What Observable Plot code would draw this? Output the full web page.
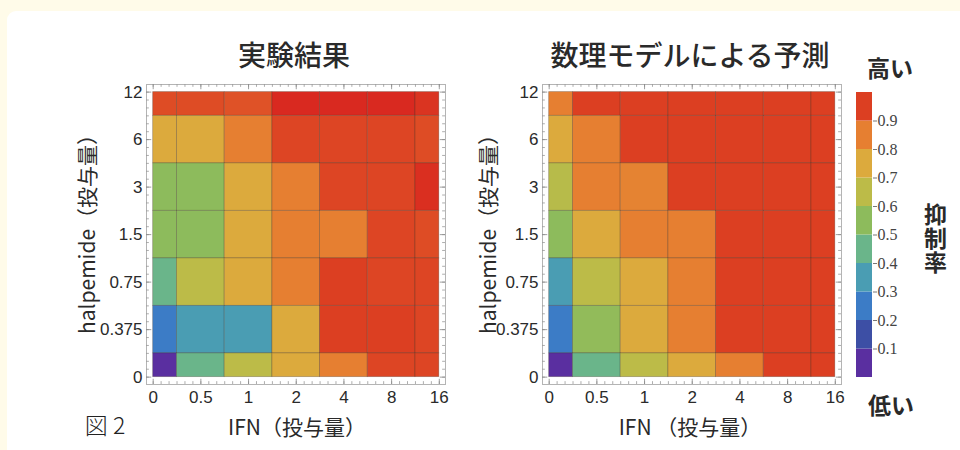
<!DOCTYPE html>
<html>
<head>
<meta charset="utf-8">
<script src="https://cdn.jsdelivr.net/npm/d3@7"></script>
<script src="https://cdn.jsdelivr.net/npm/@observablehq/plot@0.6"></script>
<style>
  html, body { margin: 0; padding: 0; }
  body { width: 960px; height: 450px; background: #fffbe9; position: relative; overflow: hidden;
         font-family: "Noto Sans CJK JP", "Liberation Sans", sans-serif; color: #222; }
  #panel { position: absolute; left: 7px; top: 11px; width: 980px; height: 460px; background: #ffffff; border-radius: 9px; }
  .abs { position: absolute; }
  .c { position: absolute; transform: translate(-50%, -50%); white-space: nowrap; }
  .title { font-size: 28px; font-weight: 500; color: #2a2a2a; }
  .axl { font-size: 21px; color: #2a2a2a; }
  .yl { font-size: 21px; color: #2a2a2a; transform: translate(-50%, -50%) rotate(-90deg); }
  .leg { font-size: 23px; font-weight: 700; color: #2a2a2a; }
  #vert { writing-mode: vertical-rl; font-size: 23px; font-weight: 700; line-height: 1; letter-spacing: 1px; color: #2a2a2a; }
</style>
</head>
<body>
<div id="panel"></div>
<div id="left" class="abs" style="left:40px;top:0px;"></div>
<div id="right" class="abs" style="left:460px;top:0px;"></div>
<div id="cbar" class="abs" style="left:840px;top:0px;"></div>

<div class="c title" style="left:294px;top:54px;">実験結果</div>
<div class="c title" style="left:690px;top:54px;">数理モデルによる予測</div>
<div class="c yl" style="left:86px;top:229px;">halpemide（投与量）</div>
<div class="c yl" style="left:487px;top:229px;">halpemide（投与量）</div>
<div class="c axl" style="left:297px;top:426px;">IFN（投与量）</div>
<div class="c axl" style="left:690px;top:426px;">IFN （投与量）</div>
<div class="c" style="left:105px;top:424px;font-size:23px;font-weight:300;">図 2</div>
<div class="c leg" style="left:890px;top:67px;">高い</div>
<div class="c leg" style="left:891px;top:404px;">低い</div>
<div id="vert" class="c" style="left:935px;top:239px;">抑制率</div>

<script>
// ---- data ----
const ifnLabels = ["0", "0.5", "1", "2", "4", "8", "16"];
const halLabels = ["0", "0.375", "0.75", "1.5", "3", "6", "12"];

// rows listed from top (halpemide 12) to bottom (halpemide 0); columns IFN 0 → 16
const experiment = [
  [0.93, 0.93, 0.92, 0.99, 0.99, 0.99, 0.97],
  [0.75, 0.75, 0.85, 0.94, 0.94, 0.94, 0.93],
  [0.55, 0.55, 0.75, 0.85, 0.94, 0.94, 0.98],
  [0.55, 0.55, 0.75, 0.85, 0.85, 0.94, 0.93],
  [0.45, 0.65, 0.75, 0.85, 0.95, 0.94, 0.94],
  [0.25, 0.35, 0.35, 0.75, 0.95, 0.95, 0.94],
  [0.05, 0.45, 0.65, 0.75, 0.85, 0.94, 0.94]
];
const model = [
  [0.85, 0.95, 0.95, 0.95, 0.95, 0.95, 0.95],
  [0.75, 0.85, 0.95, 0.95, 0.95, 0.95, 0.95],
  [0.64, 0.85, 0.84, 0.95, 0.95, 0.95, 0.95],
  [0.55, 0.75, 0.85, 0.85, 0.95, 0.95, 0.95],
  [0.35, 0.65, 0.75, 0.85, 0.95, 0.95, 0.95],
  [0.25, 0.56, 0.75, 0.85, 0.95, 0.95, 0.95],
  [0.05, 0.45, 0.65, 0.75, 0.85, 0.95, 0.95]
];

// colour bar: one colour per 0.1 band, from 0–0.1 up to 0.9–1.0
const palette = ["#5a2fa0", "#3d4fa5", "#3c7cc6", "#4a9db3", "#6ab58a",
                 "#8dbb5c", "#bcbb48", "#dcaa3d", "#e67f31", "#dc3f22"];
const deepRed = "#d8241f";
const barTicks = [0.1, 0.2, 0.3, 0.4, 0.5, 0.6, 0.7, 0.8, 0.9];

// ---- scales ----
const colorDomain = palette.map((_, i) => 0.05 + i * 0.1).concat([1.0]);
const colorRange = palette.concat([deepRed]);
const colorScale = {type: "linear", domain: colorDomain, range: colorRange, clamp: true};

const xDom = [-0.14, 6.13];
const yDom = [-0.155, 6.16];
const minor = d3.range(0, 37).map(k => k / 6).filter(v => v <= 6.001);
const major = d3.range(7);

function heatmap(rows, marginLeft, width) {
  const data = [];
  rows.forEach((row, r) => row.forEach((v, c) => data.push({c, r: 6 - r, v})));
  const tl = 0.06, tlM = 0.11;
  return Plot.plot({
    width, height: 450,
    marginLeft, marginRight: width - marginLeft - 299, marginTop: 84, marginBottom: 66,
    x: {domain: xDom, axis: null},
    y: {domain: yDom, axis: null},
    color: colorScale,
    style: {background: "transparent", fontFamily: "Liberation Sans, Arial, sans-serif", fontSize: "17px"},
    marks: [
      Plot.rect(data, {
        x1: d => Math.max(0, d.c - 0.5), x2: d => Math.min(6, d.c + 0.5),
        y1: d => Math.max(0, d.r - 0.5), y2: d => Math.min(6, d.r + 0.5),
        fill: "v", stroke: "#3a2a20", strokeOpacity: 0.35, strokeWidth: 0.8
      }),
      Plot.frame({stroke: "#b4b4b4"}),
      // inward frame ticks (minor + major) on all four sides
      Plot.ruleX(minor, {x: d => d, y1: yDom[0], y2: yDom[0] + tl, stroke: "#999", strokeWidth: 0.8}),
      Plot.ruleX(minor, {x: d => d, y1: yDom[1] - tl, y2: yDom[1], stroke: "#999", strokeWidth: 0.8}),
      Plot.ruleY(minor, {y: d => d, x1: xDom[0], x2: xDom[0] + tl, stroke: "#999", strokeWidth: 0.8}),
      Plot.ruleY(minor, {y: d => d, x1: xDom[1] - tl, x2: xDom[1], stroke: "#999", strokeWidth: 0.8}),
      Plot.ruleX(major, {x: d => d, y1: yDom[0], y2: yDom[0] + tlM, stroke: "#888", strokeWidth: 0.8}),
      Plot.ruleX(major, {x: d => d, y1: yDom[1] - tlM, y2: yDom[1], stroke: "#888", strokeWidth: 0.8}),
      Plot.ruleY(major, {y: d => d, x1: xDom[0], x2: xDom[0] + tlM, stroke: "#888", strokeWidth: 0.8}),
      Plot.ruleY(major, {y: d => d, x1: xDom[1] - tlM, x2: xDom[1], stroke: "#888", strokeWidth: 0.8}),
      Plot.axisX(major, {anchor: "bottom", tickSize: 0, tickPadding: 6, tickFormat: i => ifnLabels[i],
                         fontSize: 17, fill: "#2a2a2a", label: null}),
      Plot.axisY(major, {anchor: "left", tickSize: 0, tickPadding: 4, tickFormat: i => halLabels[i],
                         fontSize: 17, fill: "#2a2a2a", label: null})
    ]
  });
}

document.getElementById("left").append(heatmap(experiment, 106, 420));
document.getElementById("right").append(heatmap(model, 82, 388));

const bands = palette.map((_, i) => ({lo: i / 10}));
const bar = Plot.plot({
  width: 120, height: 450,
  marginLeft: 16, marginRight: 88, marginTop: 92, marginBottom: 73,
  y: {domain: [0, 1], axis: null},
  color: colorScale,
  style: {background: "transparent", fontSize: "16px"},
  marks: [
    Plot.rect(bands, {y1: d => d.lo, y2: d => d.lo + 0.1, fill: d => d.lo + 0.05}),
    Plot.axisY(barTicks, {anchor: "right", tickSize: 4, tickPadding: 1, tickFormat: d => d.toFixed(1),
                          fontSize: 16, fill: "#444", stroke: "#777", fontFamily: "Liberation Serif, serif", label: null})
  ]
});
document.getElementById("cbar").append(bar);
</script>
</body>
</html>
